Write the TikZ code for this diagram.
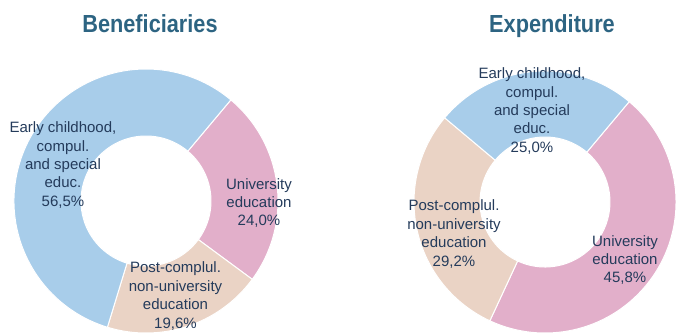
\documentclass[tikz,border=0pt]{standalone}
\usepackage{fontspec}
\setmainfont{Liberation Sans}
\newfontfamily\titlefont[FakeStretch=0.88]{Liberation Sans}
\usepackage{tikz}
\usetikzlibrary{positioning}
\usepackage{xcolor}
\definecolor{earlyblue}{HTML}{A8CDEA}
\definecolor{unipink}{HTML}{E2AFCA}
\definecolor{postbeige}{HTML}{EAD3C5}
\definecolor{labelnavy}{HTML}{243B5B}
\definecolor{titleteal}{HTML}{2D6482}
\tikzstyle{slice} = [draw=white, line width=1pt]
\tikzstyle{charttitle} = [anchor=base, inner sep=0pt, text=titleteal, font=\titlefont\bfseries\fontsize{24.7}{28}\selectfont]
\tikzstyle{slicelabel} = [align=center, inner sep=0pt, text=labelnavy, font=\fontsize{15}{18.4}\selectfont]

\begin{document}
\begin{tikzpicture}[x=1pt, y=1pt]
        \useasboundingbox (0,0) rectangle (676,333);
        % titles
        \node (bentitle) [charttitle] at (150,301) {Beneficiaries};
        \node (exptitle) [charttitle] at (552,301) {Expenditure};

        % beneficiaries donut
        \begin{scope}[shift={(146,132)}]
        \filldraw [slice, fill=unipink] (50:132pt) arc[start angle=50, end angle=-36.4, radius=132pt] -- (-36.4:65pt) arc[start angle=-36.4, end angle=50, radius=65pt] -- cycle;
        \filldraw [slice, fill=postbeige] (-36.4:132pt) arc[start angle=-36.4, end angle=-107, radius=132pt] -- (-107:65pt) arc[start angle=-107, end angle=-36.4, radius=65pt] -- cycle;
        \filldraw [slice, fill=earlyblue] (-107:132pt) arc[start angle=-107, end angle=-310, radius=132pt] -- (-310:65pt) arc[start angle=-310, end angle=-107, radius=65pt] -- cycle;
        \end{scope}

        % expenditure donut
        \begin{scope}[shift={(545,131)}]
        \filldraw [slice, fill=unipink] (50:131pt) arc[start angle=50, end angle=-114.9, radius=131pt] -- (-114.9:65pt) arc[start angle=-114.9, end angle=50, radius=65pt] -- cycle;
        \filldraw [slice, fill=postbeige] (-114.9:131pt) arc[start angle=-114.9, end angle=-220, radius=131pt] -- (-220:65pt) arc[start angle=-220, end angle=-114.9, radius=65pt] -- cycle;
        \filldraw [slice, fill=earlyblue] (-220:131pt) arc[start angle=-220, end angle=-310, radius=131pt] -- (-310:65pt) arc[start angle=-310, end angle=-220, radius=65pt] -- cycle;
        \end{scope}

        % labels
        \node (benearly) [slicelabel] at (63,168) {Early childhood,\\compul.\\and special\\educ.\\56,5\%};
        \node (benuni) [slicelabel] at (259,130) {University\\education\\24,0\%};
        \node (benpost) [slicelabel] at (175.5,37) {Post-complul.\\non-university\\education\\19,6\%};
        \node (expearly) [slicelabel] at (532,222) {Early childhood,\\compul.\\and special\\educ.\\25,0\%};
        \node (exppost) [slicelabel] at (454,99) {Post-complul.\\non-university\\education\\29,2\%};
        \node (expuni) [slicelabel] at (625,73) {University\\education\\45,8\%};
    \end{tikzpicture}
\end{document}
